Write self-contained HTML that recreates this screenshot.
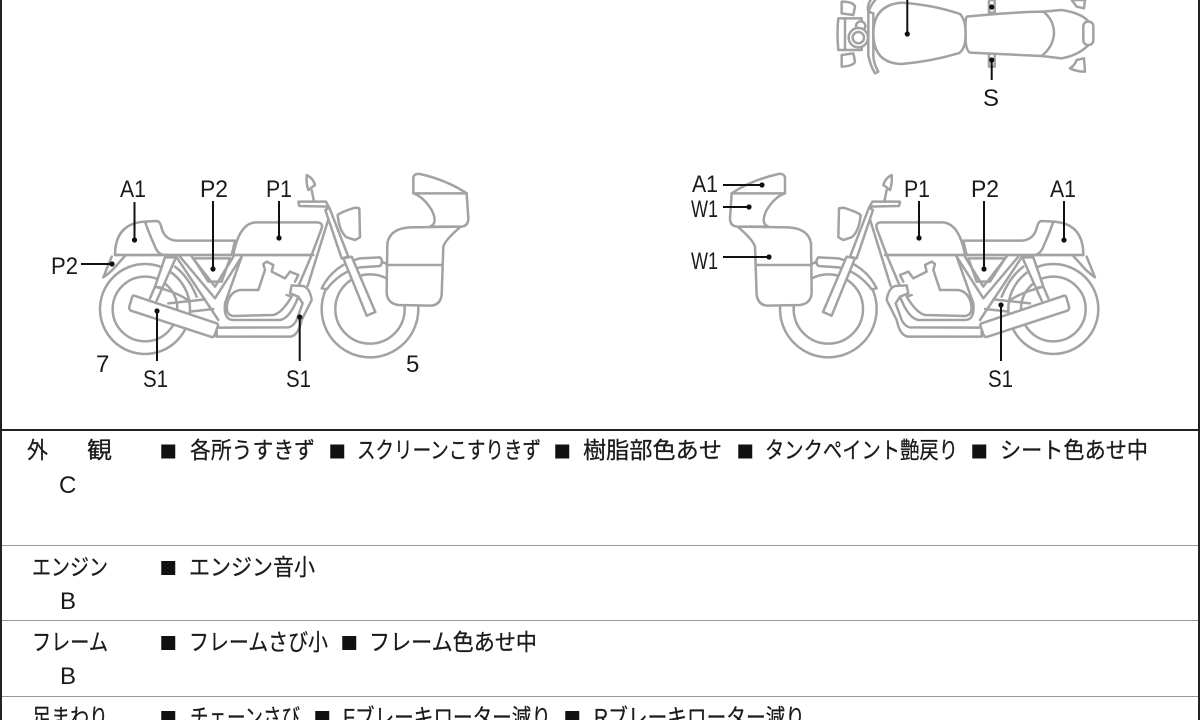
<!DOCTYPE html>
<html lang="ja"><head><meta charset="utf-8"><style>
html,body{margin:0;padding:0;background:#fff;width:1200px;height:720px;overflow:hidden}
svg{display:block;filter:blur(.35px)}
.l{fill:#fff;stroke:#a2a2a2;stroke-width:7.5;stroke-linejoin:round;stroke-linecap:round}
.n{fill:none;stroke:#a2a2a2;stroke-width:7.5;stroke-linejoin:round;stroke-linecap:round}
.t{fill:#1a1a1a;font-family:"Liberation Sans","Noto Sans CJK JP",sans-serif;font-size:24px}
.j{fill:#1a1a1a;stroke:#1a1a1a;stroke-width:.25;font-family:"Liberation Sans","Noto Sans CJK JP",sans-serif;font-size:23px}
.q{fill:#111;font-family:"Noto Sans CJK JP",sans-serif;font-size:17.5px}
.k{stroke:#111;stroke-width:2;fill:none}
</style></head><body>
<svg width="1200" height="720" viewBox="0 0 1200 720" xmlns="http://www.w3.org/2000/svg">
<defs>
<g id="bike">
<circle class="l" cx="315" cy="447" r="135"/>
<circle class="n" cx="315" cy="447" r="97"/>
<circle class="l" cx="990" cy="447" r="145"/>
<circle class="n" cx="990" cy="447" r="104"/>
<path class="n" d="M345,380 Q420,400 450,425M405,320 Q445,350 470,410"/>
<path class="l" d="M345,380 L375,292 L408,292 L367,384Z"/>
<path class="n" d="M345,380 L330,415M367,384 L350,422"/>
<path class="n" d="M385,430 L495,418M450,455 L520,447"/>
<path class="n" d="M866,175 L803,378M815,285 L778,372"/>
<path class="l" d="M845,385 Q880,315 960,295 L1020,292 Q1032,305 1020,318 L960,322 Q900,335 860,388Z"/>
<path class="l" d="M856,150 L868,143 L925,290 L905,295Z"/>
<path class="l" d="M910,295 L935,290 L1006,456 L980,467Z"/>
<path class="l" d="M775,125 L858,125 L866,140 L778,138Z"/>
<path class="n" d="M815,90 L822,125"/>
<path class="l" d="M800,45 Q820,55 825,75 L805,90 Q798,70 800,45Z"/>
<path class="l" d="M893,165 Q905,155 945,143 L958,145 L960,232 L945,240 L920,232 Q898,215 893,165Z"/>
<path class="l" d="M225,285 Q225,190 315,185 L350,183 Q360,183 365,205 Q375,240 410,242 L585,242 L575,285Z"/>
<path class="n" d="M315,185 Q325,215 345,260 Q355,285 375,285"/>
<path class="l" d="M215,290 L190,352 Q215,335 235,310 L255,288"/>
<path class="l" d="M580,285 C590,230 610,187 650,187 L830,187 Q850,187 845,205 L815,285Z"/>
<path class="n" d="M225,285 L820,285"/>
<path class="n" d="M420,290 L525,415 L605,290M455,290 L525,380 L580,290"/>
<path class="n" d="M460,295 L570,295 L545,365 L505,365Z"/>
<path class="n" d="M410,292 L535,480"/>
<path class="n" d="M605,290 L555,430 Q550,480 580,480 L720,480 Q750,475 775,410"/>
<path class="n" d="M655,390 L600,390 Q570,395 562,430 Q555,465 580,468 L700,465 Q725,460 755,410 L740,405"/>
<path class="n" d="M655,390 L675,330 L670,312 L680,305 L700,315 L695,335 L735,355 L750,335 L775,345 L765,365"/>
<path class="l" d="M530,503 L745,502 Q760,500 770,480 L788,430 L775,410 L750,400 L755,376 L790,378 Q810,385 815,420 L785,480 Q775,528 750,530 L530,530Z"/>
<path class="l" d="M283,407 L530,490 Q536,492 533,500 L524,526 Q520,533 512,530 L273,452 Q266,448 268,440 L276,412 Q278,406 283,407Z"/>
<path class="l" d="M1042,250 Q1050,205 1110,202 L1262,200 Q1215,240 1210,260 L1205,405 Q1200,437 1170,437 L1075,435 Q1040,430 1040,395Z"/>
<path class="n" d="M1040,315 L1205,315"/>
<path class="l" d="M1120,55 Q1120,40 1140,42 Q1220,60 1280,100 L1285,175 Q1285,200 1260,200 L1170,200 Q1195,190 1175,150 Q1150,110 1120,100Z"/>
<path class="n" d="M1120,100 L1280,100"/>
</g>
</defs>
<rect width="1200" height="720" fill="#fff"/>
<g transform="translate(40,160) scale(.33333)"><use href="#bike"/></g>
<g transform="translate(680,160) scale(.33333) translate(1435,0) scale(-1,1)"><use href="#bike"/></g>

<g transform="translate(820,0) scale(.33333)">
<path class="l" d="M65,5 Q100,5 105,20 L100,45 L65,40Z"/>
<path class="l" d="M65,165 L100,160 L105,185 Q100,198 65,200Z"/>
<path class="l" d="M55,55 L125,55 L125,150 L55,150 Q50,100 55,55Z"/>
<path class="n" d="M75,55 L75,150"/>
<circle class="l" cx="122" cy="78" r="14"/>
<circle class="l" cx="115" cy="113" r="29"/>
<circle class="n" cx="115" cy="113" r="17"/>
<path class="l" d="M145,35 Q155,10 170,-5 L155,-5 Q140,15 145,35 L145,165 Q150,195 165,220 L175,215 Q160,190 160,165 L160,40Z"/>
<path class="l" d="M245,8 Q160,15 160,100 Q160,190 245,192 Q330,185 415,160 Q437,150 437,100 Q437,60 420,42 Q340,15 245,8Z"/>
<rect class="l" x="507" y="0" width="17" height="38"/>
<rect class="l" x="507" y="160" width="17" height="40"/>
<path class="l" d="M670,35 L725,30 Q790,40 810,70 L810,130 Q780,165 725,175 L665,168Z"/>
<path class="l" d="M440,50 Q600,35 670,35 Q702,60 702,100 Q700,140 665,168 L450,158 Q435,150 437,100 Q435,60 440,50Z"/>
<rect class="l" x="790" y="65" width="30" height="70" rx="14"/>
<path class="l" d="M755,0 L795,0 L792,25 L770,20Z"/>
<path class="l" d="M770,180 L792,175 L795,215 Q770,215 750,205 Q765,195 770,180Z"/>
</g>

<g class="k">
<path d="M134.5,202V240M213,201V269M279,201V238M81,264H112M157,311V361M299.7,317V361"/>
<path d="M723,185H762M723,207H749M723,257H769M919,201V238M984,201V269M1064,201V240M1001,305V361"/>
<path d="M907.3,0V34M991.7,60V80"/>
</g>
<g fill="#111">
<circle cx="134.5" cy="240" r="2.6"/><circle cx="213" cy="269" r="2.6"/><circle cx="279" cy="238" r="2.6"/><circle cx="112" cy="264" r="2.6"/><circle cx="157" cy="311" r="2.6"/><circle cx="299.7" cy="317" r="2.6"/>
<circle cx="762" cy="185" r="2.6"/><circle cx="749" cy="207" r="2.6"/><circle cx="769" cy="257" r="2.6"/><circle cx="919" cy="238" r="2.6"/><circle cx="984" cy="269" r="2.6"/><circle cx="1064" cy="240" r="2.6"/><circle cx="1001" cy="305" r="2.6"/>
<circle cx="907.3" cy="34" r="2.6"/><circle cx="991.7" cy="7" r="2.6"/><circle cx="991.7" cy="60" r="2.6"/>
</g>

<g class="t">
<text x="120" y="197" textLength="26" lengthAdjust="spacingAndGlyphs">A1</text>
<text x="200" y="197" textLength="28" lengthAdjust="spacingAndGlyphs">P2</text>
<text x="266" y="197" textLength="26" lengthAdjust="spacingAndGlyphs">P1</text>
<text x="51" y="274" textLength="27" lengthAdjust="spacingAndGlyphs">P2</text>
<text x="96" y="372">7</text>
<text x="406" y="372">5</text>
<text x="143" y="387" textLength="25" lengthAdjust="spacingAndGlyphs">S1</text>
<text x="286" y="387" textLength="25" lengthAdjust="spacingAndGlyphs">S1</text>
<text x="692" y="192" textLength="26" lengthAdjust="spacingAndGlyphs">A1</text>
<text x="691" y="217" textLength="27" lengthAdjust="spacingAndGlyphs">W1</text>
<text x="691" y="269" textLength="27" lengthAdjust="spacingAndGlyphs">W1</text>
<text x="904" y="197" textLength="26" lengthAdjust="spacingAndGlyphs">P1</text>
<text x="971" y="197" textLength="28" lengthAdjust="spacingAndGlyphs">P2</text>
<text x="1050" y="197" textLength="26" lengthAdjust="spacingAndGlyphs">A1</text>
<text x="988" y="387" textLength="25" lengthAdjust="spacingAndGlyphs">S1</text>
<text x="983" y="106">S</text>
<text x="59" y="493">C</text>
<text x="60" y="609">B</text>
<text x="60" y="684">B</text>
</g>

<rect x="0" y="0" width="2" height="720" fill="#222"/>
<rect x="1198" y="0" width="2" height="720" fill="#222"/>
<rect x="0" y="429" width="1200" height="2" fill="#222"/>
<rect x="2" y="545" width="1196" height="1" fill="#9a9a9a"/>
<rect x="2" y="620" width="1196" height="1" fill="#9a9a9a"/>
<rect x="2" y="696" width="1196" height="1" fill="#9a9a9a"/>

<g class="j">
<text x="27" y="458" textLength="21" lengthAdjust="spacingAndGlyphs">外</text><text x="87" y="458" textLength="25" lengthAdjust="spacingAndGlyphs">観</text>
<text x="190" y="458" textLength="125" lengthAdjust="spacingAndGlyphs">各所うすきず</text>
<text x="357" y="458" textLength="184" lengthAdjust="spacingAndGlyphs">スクリーンこすりきず</text>
<text x="583" y="458" textLength="139" lengthAdjust="spacingAndGlyphs">樹脂部色あせ</text>
<text x="765" y="458" textLength="193" lengthAdjust="spacingAndGlyphs">タンクペイント艶戻り</text>
<text x="1000" y="458" textLength="148" lengthAdjust="spacingAndGlyphs">シート色あせ中</text>
<text x="32" y="575" textLength="76" lengthAdjust="spacingAndGlyphs">エンジン</text>
<text x="189" y="575" textLength="126" lengthAdjust="spacingAndGlyphs">エンジン音小</text>
<text x="32" y="650" textLength="76" lengthAdjust="spacingAndGlyphs">フレーム</text>
<text x="189" y="650" textLength="139" lengthAdjust="spacingAndGlyphs">フレームさび小</text>
<text x="369" y="650" textLength="168" lengthAdjust="spacingAndGlyphs">フレーム色あせ中</text>
<text x="32" y="725" textLength="76" lengthAdjust="spacingAndGlyphs">足まわり</text>
<text x="190" y="725" textLength="110" lengthAdjust="spacingAndGlyphs">チェーンさび</text>
<text x="343" y="725" textLength="208" lengthAdjust="spacingAndGlyphs">Fブレーキローター減り</text>
<text x="594" y="725" textLength="211" lengthAdjust="spacingAndGlyphs">Rブレーキローター減り</text>
</g>
<g class="q">
<text x="159.5" y="458">■</text><text x="328.5" y="458">■</text><text x="553.5" y="458">■</text><text x="736.5" y="458">■</text><text x="970.5" y="458">■</text>
<text x="159.5" y="574.5">■</text>
<text x="159.5" y="649.5">■</text><text x="340.5" y="649.5">■</text>
<text x="159.5" y="724.5">■</text><text x="313.5" y="724.5">■</text><text x="563.5" y="724.5">■</text>
</g>
</svg>
</body></html>
